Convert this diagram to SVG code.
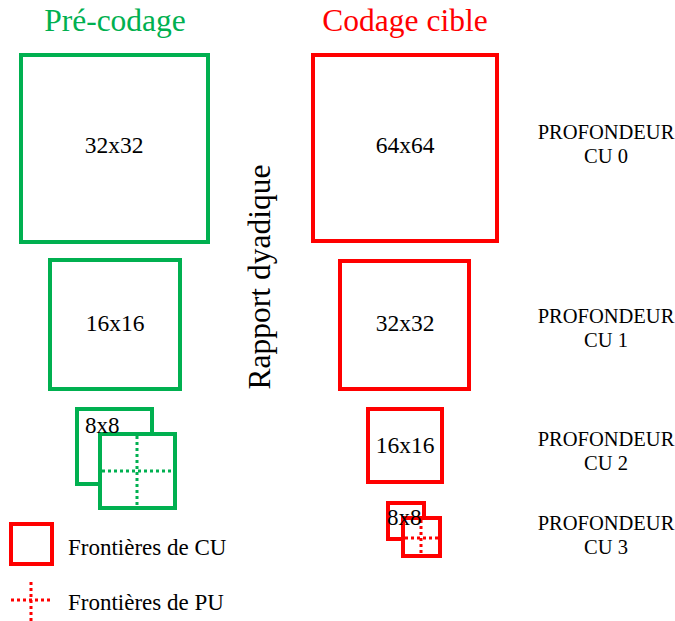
<svg xmlns="http://www.w3.org/2000/svg" width="675" height="621" viewBox="0 0 675 621">
<style>
text{font-family:"Liberation Serif","Times New Roman",serif;fill:#000}
.g{fill:#fff;stroke:#00B050;stroke-width:4}
.r{fill:#fff;stroke:#FF0000;stroke-width:4}
.gd{stroke:#00B050;stroke-width:3;stroke-dasharray:3 3;fill:none}
.rd{stroke:#FF0000;stroke-width:3;stroke-dasharray:3 3;fill:none}
.lbl{font-size:23.5px;text-anchor:middle}
.dep{font-size:20.5px;text-anchor:middle}
</style>
<rect width="675" height="621" fill="#fff"/>
<text x="115" y="31" style="font-size:31.5px;fill:#00B050" text-anchor="middle">Pré-codage</text>
<text x="405" y="31" style="font-size:31.5px;fill:#FF0000" text-anchor="middle">Codage cible</text>
<text transform="translate(270,277) rotate(-90)" style="font-size:31.5px" text-anchor="middle">Rapport dyadique</text>
<g id="g32"><rect class="g" x="21" y="55" width="187" height="187"/><text class="lbl" x="114" y="153">32x32</text></g>
<g id="g16"><rect class="g" x="50" y="260" width="130" height="129"/><text class="lbl" x="115" y="331">16x16</text></g>
<g id="g8"><rect class="g" x="77" y="409" width="75" height="75"/>
<rect class="g" x="100" y="434" width="75" height="74"/>
<line class="gd" x1="137" y1="436" x2="137" y2="506"/><line class="gd" x1="102" y1="471" x2="173" y2="471"/>
<text x="85" y="433" style="font-size:23px">8x8</text></g>
<g id="r64"><rect class="r" x="313" y="55" width="184" height="186"/><text class="lbl" x="405" y="153">64x64</text></g>
<g id="r32"><rect class="r" x="340" y="261" width="129" height="128"/><text class="lbl" x="405" y="331">32x32</text></g>
<g id="r16"><rect class="r" x="368" y="409" width="74" height="73"/><text class="lbl" x="405" y="453">16x16</text></g>
<g id="r8"><rect class="r" x="388" y="503" width="36" height="36"/>
<rect class="r" x="403" y="518" width="37" height="38"/>
<line class="rd" x1="421" y1="520" x2="421" y2="554"/><line class="rd" x1="405" y1="538" x2="438" y2="538"/>
<text x="387" y="525" style="font-size:23px">8x8</text></g>
<g id="d0"><text class="dep" x="606" y="139">PROFONDEUR</text><text class="dep" x="606" y="163">CU 0</text></g>
<g id="d1"><text class="dep" x="606" y="323">PROFONDEUR</text><text class="dep" x="606" y="347">CU 1</text></g>
<g id="d2"><text class="dep" x="606" y="446">PROFONDEUR</text><text class="dep" x="606" y="470">CU 2</text></g>
<g id="d3"><text class="dep" x="606" y="530">PROFONDEUR</text><text class="dep" x="606" y="554">CU 3</text></g>
<g id="legend">
<rect class="r" x="11" y="524" width="41" height="40"/>
<text x="68" y="555" style="font-size:23px">Frontières de CU</text>
<line class="rd" x1="31" y1="582" x2="31" y2="621"/><line class="rd" x1="11" y1="600" x2="52" y2="600"/>
<text x="68" y="610" style="font-size:23px">Frontières de PU</text>
</g>
</svg>
